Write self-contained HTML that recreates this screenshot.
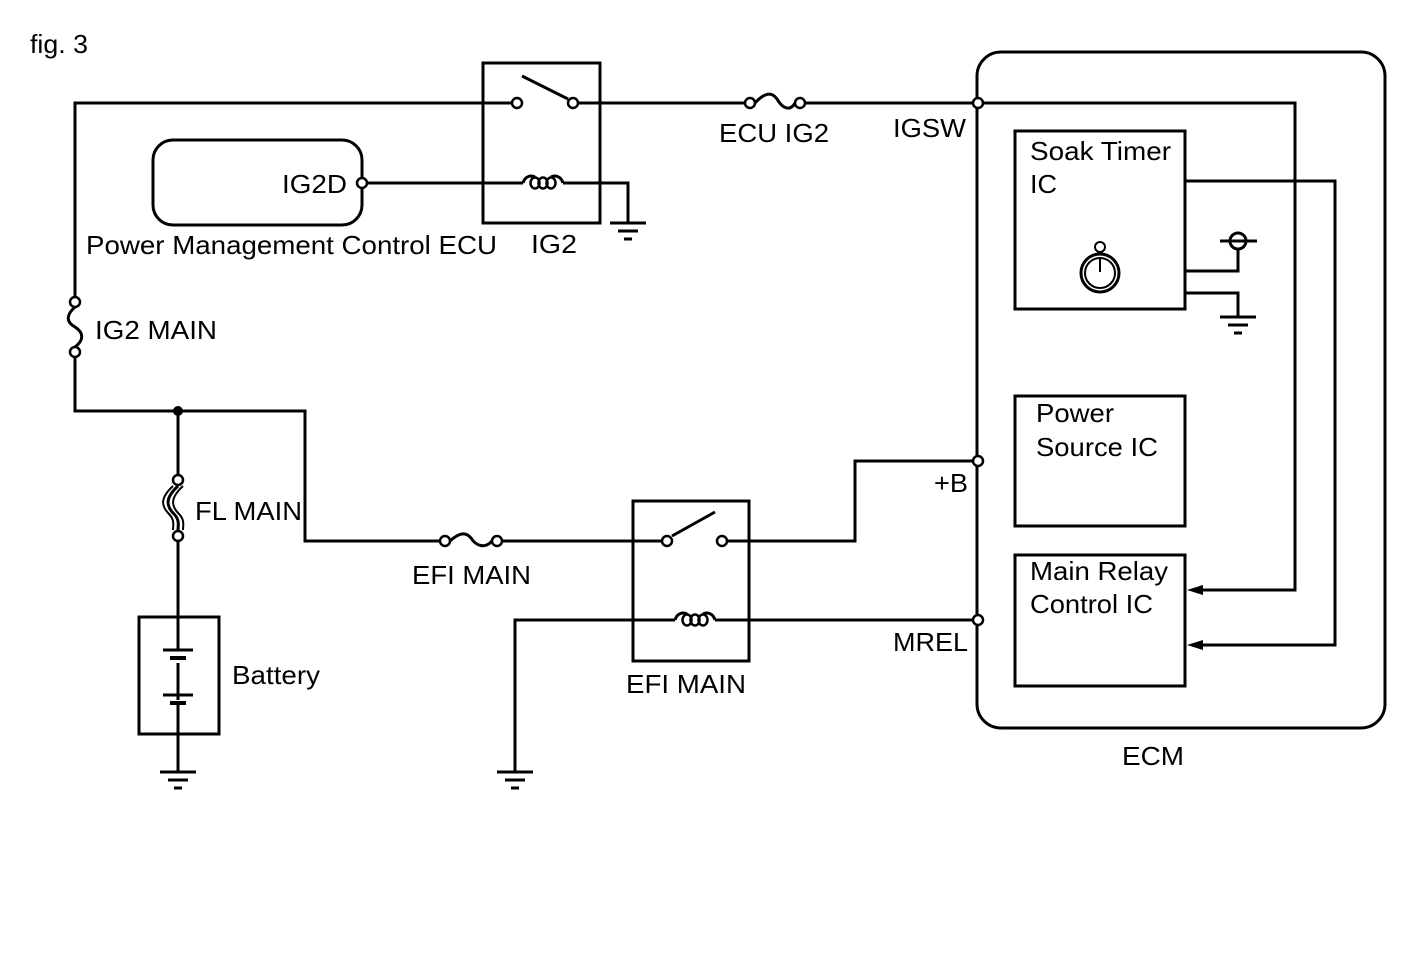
<!DOCTYPE html>
<html><head><meta charset="utf-8"><style>
html,body{margin:0;padding:0;background:#fff;}
svg{display:block;}
text{font-family:"Liberation Sans",Arial,sans-serif;font-size:26px;fill:#000;}
</style></head><body>
<svg width="1424" height="959" viewBox="0 0 1424 959" xmlns="http://www.w3.org/2000/svg">
<defs>
<g id="gnd"><line x1="-18" y1="0" x2="18" y2="0" stroke="#000" stroke-width="3"/><line x1="-10" y1="8" x2="10" y2="8" stroke="#000" stroke-width="3"/><line x1="-4" y1="16" x2="4" y2="16" stroke="#000" stroke-width="3"/></g>
<g id="coil" fill="none" stroke="#000">
<path d="M0,0 C2,-7 8,-8 12,-6 M28,-6 C32,-8 38,-7 40,0" stroke-width="3"/>
<ellipse cx="12" cy="0" rx="4.5" ry="5.5" stroke-width="2.5"/>
<ellipse cx="20" cy="0" rx="4.5" ry="5.5" stroke-width="2.5"/>
<ellipse cx="28" cy="0" rx="4.5" ry="5.5" stroke-width="2.5"/>
</g>
</defs>
<g fill="none" stroke="#000" stroke-width="3">
<rect x="977" y="52" width="408" height="676" rx="24"/>
<rect x="1015" y="131" width="170" height="178"/>
<rect x="1015" y="396" width="170" height="130"/>
<rect x="1015" y="555" width="170" height="131"/>
<rect x="153" y="140" width="209" height="85" rx="20"/>
<rect x="483" y="63" width="117" height="160"/>
<rect x="633" y="501" width="116" height="160"/>
<rect x="139" y="617" width="80" height="117"/>
<polyline points="512,103 75,103 75,297"/>
<line x1="578" y1="103" x2="745" y2="103"/>
<line x1="805" y1="103" x2="973" y2="103"/>
<polyline points="983,103 1295,103 1295,590 1200,590"/>
<line x1="522" y1="76" x2="568" y2="99"/>
<path d="M755,103 C765,92 772,92 777,99 C782,108 790,112 795,103"/>
<line x1="367" y1="183" x2="523" y2="183"/>
<polyline points="563,183 628,183 628,223"/>
<path d="M75,307 C66,315 66,322 75,327 C84,333 84,340 75,347"/>
<polyline points="75,357 75,411 305,411 305,541 440,541"/>
<line x1="178" y1="411" x2="178" y2="475"/>
<path d="M450,541 C460,532 466,532 471,538 C476,546 485,549 492,541"/>
<line x1="502" y1="541" x2="662" y2="541"/>
<line x1="672" y1="536" x2="715" y2="512"/>
<polyline points="727,541 855,541 855,461 973,461"/>
<polyline points="515,772 515,620 675,620"/>
<line x1="715" y1="620" x2="973" y2="620"/>
<path d="M178,486 C165,498 166,506 174,514 C180,520 178,526 178,530" stroke-width="3"/>
<path d="M183,486 C170,498 171,506 179,514 C185,520 183,526 183,530" stroke-width="2"/>
<path d="M173,486 C160,498 161,506 169,514 C175,520 173,526 173,530" stroke-width="2"/>
<line x1="178" y1="541" x2="178" y2="650"/>
<line x1="178" y1="663" x2="178" y2="700"/>
<line x1="178" y1="703" x2="178" y2="772"/>
<polyline points="1185,181 1335,181 1335,645 1200,645"/>
<polyline points="1185,271 1238,271 1238,249"/>
<circle cx="1238" cy="241" r="8"/>
<line x1="1220" y1="241" x2="1257" y2="241"/>
<polyline points="1185,293 1238,293 1238,317"/>
<circle cx="1100" cy="273" r="19"/>
<circle cx="1100" cy="273" r="15" stroke-width="2"/>
<circle cx="1100" cy="247" r="5" stroke-width="2"/>
<line x1="1100" y1="258" x2="1100" y2="272" stroke-width="2"/>
</g>
<use href="#coil" x="523" y="183"/>
<use href="#coil" x="675" y="620"/>
<g stroke="#000" stroke-width="3">
<line x1="163" y1="650" x2="193" y2="650"/>
<line x1="170" y1="658" x2="186" y2="658" stroke-width="4"/>
<line x1="178" y1="668" x2="178" y2="675"/>
<line x1="178" y1="681" x2="178" y2="688"/>
<line x1="163" y1="695" x2="193" y2="695"/>
<line x1="170" y1="703" x2="186" y2="703" stroke-width="4"/>
</g>
<polygon points="1187,590 1203,585 1203,595" fill="#000"/>
<polygon points="1187,645 1203,640 1203,650" fill="#000"/>
<use href="#gnd" x="628" y="223"/>
<use href="#gnd" x="1238" y="317"/>
<use href="#gnd" x="178" y="772"/>
<use href="#gnd" x="515" y="772"/>
<g fill="#fff" stroke="#000" stroke-width="2.5">
<circle cx="517" cy="103" r="5"/><circle cx="573" cy="103" r="5"/>
<circle cx="750" cy="103" r="5"/><circle cx="800" cy="103" r="5"/>
<circle cx="978" cy="103" r="5"/><circle cx="362" cy="183" r="5"/>
<circle cx="75" cy="302" r="5"/><circle cx="75" cy="352" r="5"/>
<circle cx="445" cy="541" r="5"/><circle cx="497" cy="541" r="5"/>
<circle cx="667" cy="541" r="5"/><circle cx="722" cy="541" r="5"/>
<circle cx="978" cy="461" r="5"/><circle cx="978" cy="620" r="5"/>
<circle cx="178" cy="480" r="5"/><circle cx="178" cy="536" r="5"/>
</g>
<circle cx="178" cy="411" r="5" fill="#000"/>
<text x="30" y="53" textLength="58" lengthAdjust="spacingAndGlyphs">fig. 3</text>
<text x="719" y="142" textLength="110" lengthAdjust="spacingAndGlyphs">ECU IG2</text>
<text x="893" y="137" textLength="73" lengthAdjust="spacingAndGlyphs">IGSW</text>
<text x="282" y="193" textLength="65" lengthAdjust="spacingAndGlyphs">IG2D</text>
<text x="86" y="254" textLength="411" lengthAdjust="spacingAndGlyphs">Power Management Control ECU</text>
<text x="531" y="253" textLength="46" lengthAdjust="spacingAndGlyphs">IG2</text>
<text x="95" y="339" textLength="122" lengthAdjust="spacingAndGlyphs">IG2 MAIN</text>
<text x="195" y="520" textLength="107" lengthAdjust="spacingAndGlyphs">FL MAIN</text>
<text x="412" y="584" textLength="119" lengthAdjust="spacingAndGlyphs">EFI MAIN</text>
<text x="626" y="693" textLength="120" lengthAdjust="spacingAndGlyphs">EFI MAIN</text>
<text x="232" y="684" textLength="88" lengthAdjust="spacingAndGlyphs">Battery</text>
<text x="934" y="492" textLength="34" lengthAdjust="spacingAndGlyphs">+B</text>
<text x="893" y="651" textLength="75" lengthAdjust="spacingAndGlyphs">MREL</text>
<text x="1122" y="765" textLength="62" lengthAdjust="spacingAndGlyphs">ECM</text>
<text x="1030" y="160" textLength="141" lengthAdjust="spacingAndGlyphs">Soak Timer</text>
<text x="1030" y="193" textLength="27" lengthAdjust="spacingAndGlyphs">IC</text>
<text x="1036" y="422" textLength="78" lengthAdjust="spacingAndGlyphs">Power</text>
<text x="1036" y="456" textLength="122" lengthAdjust="spacingAndGlyphs">Source IC</text>
<text x="1030" y="580" textLength="138" lengthAdjust="spacingAndGlyphs">Main Relay</text>
<text x="1030" y="613" textLength="123" lengthAdjust="spacingAndGlyphs">Control IC</text>
</svg>
</body></html>
